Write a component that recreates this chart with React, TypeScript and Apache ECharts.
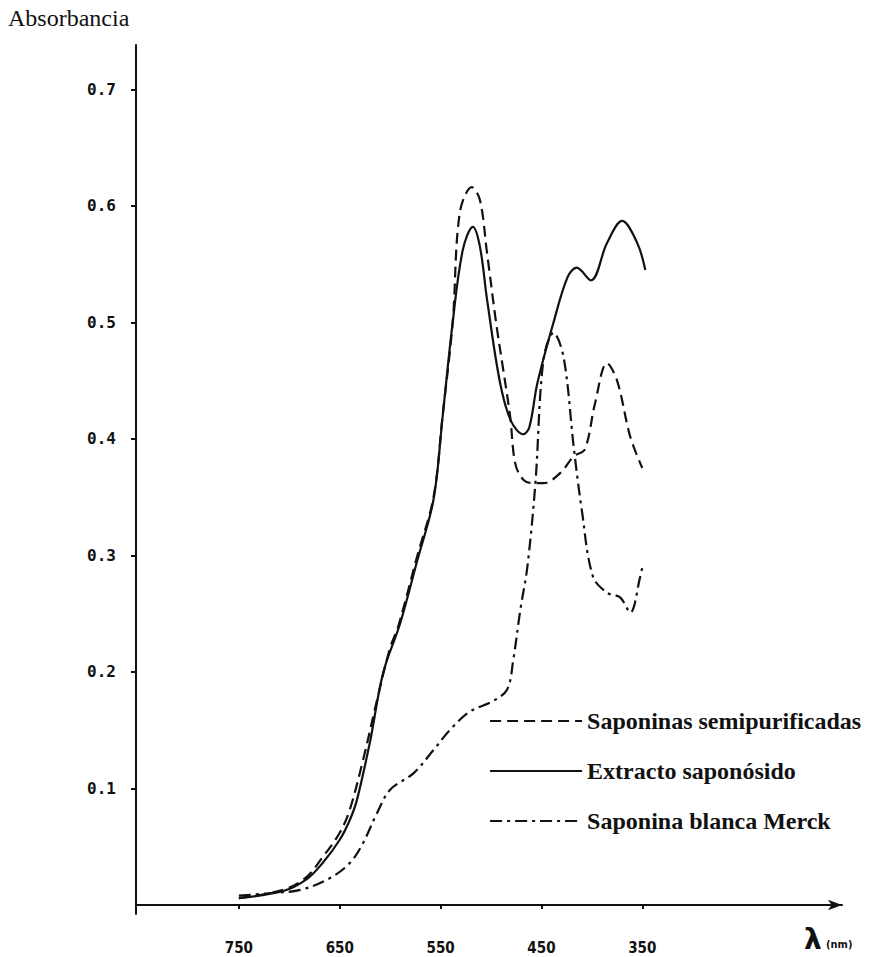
import React, { useEffect, useRef } from "react";
import * as echarts from "echarts";

const xTicks = [750, 650, 550, 450, 350];
const yTicks = [0.1, 0.2, 0.3, 0.4, 0.5, 0.6, 0.7];

const semipurificadas: [number, number][] = [
  [750, 0.006], [706, 0.013], [683, 0.024], [667, 0.041], [650, 0.062], [640, 0.082],
  [627, 0.124], [613, 0.176], [600, 0.221], [592, 0.239], [573, 0.3], [557, 0.35],
  [548, 0.42], [538, 0.5], [531, 0.594], [519, 0.616], [511, 0.605], [504, 0.56],
  [495, 0.5], [488, 0.46], [481, 0.419], [476, 0.379], [468, 0.365], [458, 0.362],
  [448, 0.362], [431, 0.371], [418, 0.385], [407, 0.391], [397, 0.43], [385, 0.465],
  [375, 0.45], [362, 0.402], [350, 0.375],
];

const extracto: [number, number][] = [
  [750, 0.006], [706, 0.012], [683, 0.022], [667, 0.036], [650, 0.056], [640, 0.073],
  [633, 0.09], [620, 0.14], [607, 0.199], [590, 0.242], [573, 0.296], [557, 0.348],
  [548, 0.419], [538, 0.5], [528, 0.562], [518, 0.582], [511, 0.565], [504, 0.52],
  [491, 0.448], [480, 0.415], [468, 0.404], [462, 0.41], [454, 0.448], [438, 0.5],
  [424, 0.539], [415, 0.547], [401, 0.536], [385, 0.568], [370, 0.587], [355, 0.568],
  [347, 0.545],
];

const merck: [number, number][] = [
  [750, 0.008], [722, 0.01], [689, 0.013], [660, 0.023], [640, 0.036], [627, 0.053],
  [613, 0.079], [600, 0.099], [577, 0.113], [557, 0.133], [541, 0.15], [521, 0.166],
  [498, 0.175], [484, 0.185], [478, 0.21], [471, 0.253], [464, 0.29], [456, 0.362],
  [448, 0.468], [438, 0.491], [428, 0.47], [418, 0.393], [410, 0.339], [399, 0.282],
  [385, 0.268], [372, 0.264], [362, 0.251], [352, 0.282], [350, 0.29],
];

const seriesNames = ["Saponinas semipurificadas", "Extracto saponósido", "Saponina blanca Merck"];

export default function App() {
  const ref = useRef<HTMLDivElement>(null);
  useEffect(() => {
    if (!ref.current) return;
    const chart = echarts.init(ref.current, null, { renderer: "svg" });
    const ink = "#111";
    const mk = (name: string, data: [number, number][], type: any) => ({
      name,
      type: "line",
      data,
      smooth: 0.35,
      symbol: "none",
      lineStyle: { color: ink, width: 2.2, type },
      itemStyle: { color: ink },
    });
    chart.setOption({
      animation: false,
      backgroundColor: "#fff",
      grid: { left: 136, right: 28, top: 45, bottom: 43 },
      xAxis: {
        type: "value",
        inverse: true,
        min: 152,
        max: 852,
        splitLine: { show: false },
        axisLine: {
          lineStyle: { color: ink, width: 2 },
          symbol: ["none", "arrow"],
          symbolSize: [8, 14],
        },
        axisTick: { show: true, length: 4, customValues: xTicks, lineStyle: { color: ink, width: 2 } },
        axisLabel: {
          customValues: xTicks,
          margin: 26,
          color: ink,
          fontSize: 15,
          fontWeight: "bold",
          fontFamily: "'DejaVu Sans Condensed', 'Liberation Sans Narrow', 'DejaVu Sans', sans-serif",
        },
      },
      yAxis: {
        type: "value",
        min: -0.0077,
        max: 0.738,
        splitLine: { show: false },
        axisLine: { show: true, lineStyle: { color: ink, width: 2 } },
        axisTick: { show: true, length: 5, customValues: yTicks, lineStyle: { color: ink, width: 2 } },
        axisLabel: {
          customValues: yTicks,
          margin: 20,
          color: ink,
          fontSize: 16,
          fontWeight: "bold",
          fontFamily: "'DejaVu Sans Mono', monospace",
          formatter: (v: number) => v.toFixed(1),
        },
      },
      legend: {
        orient: "vertical",
        left: 484,
        top: 704,
        itemWidth: 92,
        itemHeight: 14,
        itemGap: 26,
        data: seriesNames,
        itemStyle: { opacity: 0 },
        textStyle: {
          color: ink,
          fontSize: 24,
          fontWeight: "bold",
          fontFamily: "'Liberation Serif', 'Times New Roman', serif",
        },
        lineStyle: { type: "inherit", width: 2.2 },
      },
      graphic: [
        {
          type: "text",
          left: 8,
          top: 6,
          style: {
            text: "Absorbancia",
            fill: ink,
            fontSize: 24,
            fontFamily: "'Liberation Serif', 'Times New Roman', serif",
          },
        },
        {
          type: "text",
          left: 804,
          top: 925,
          style: {
            text: "λ",
            fill: ink,
            fontSize: 28,
            fontWeight: "bold",
            fontFamily: "'DejaVu Sans', sans-serif",
          },
        },
        {
          type: "text",
          left: 826,
          top: 939,
          style: {
            text: "(nm)",
            fill: ink,
            fontSize: 11,
            fontWeight: "bold",
            fontFamily: "'DejaVu Sans Condensed', 'DejaVu Sans', sans-serif",
          },
        },
      ],
      series: [
        mk(seriesNames[0], semipurificadas, [11, 6]),
        mk(seriesNames[1], extracto, "solid"),
        mk(seriesNames[2], merck, [12, 5, 3, 5]),
      ],
    });
    return () => chart.dispose();
  }, []);
  return (
    <div
      ref={ref}
      style={{ position: "fixed", left: 0, top: 0, width: 870, height: 957 }}
    />
  );
}
